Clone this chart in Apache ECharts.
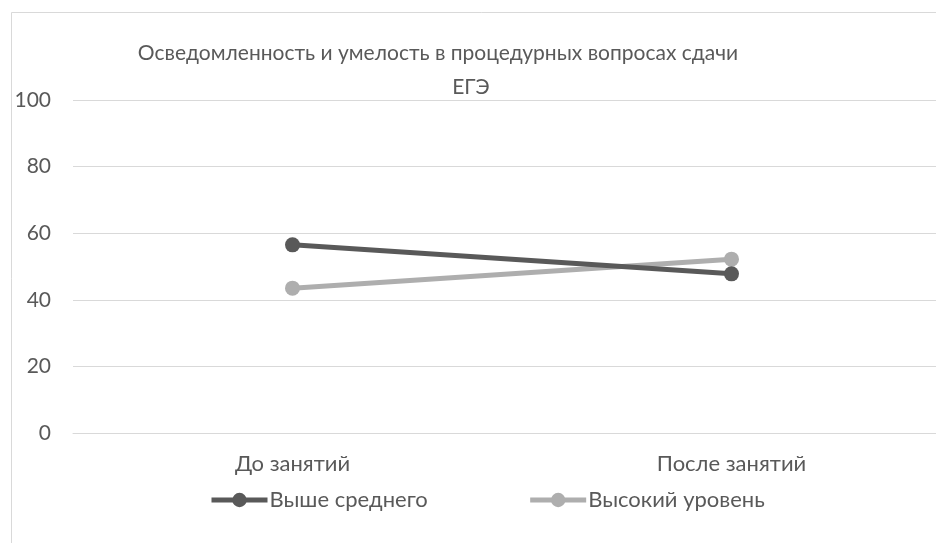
<!DOCTYPE html>
<html>
<head>
<meta charset="utf-8">
<script src="https://cdn.jsdelivr.net/npm/echarts@6/dist/echarts.min.js"></script>
<style>
  html, body { margin: 0; padding: 0; background: #fff; overflow: hidden; }
  /* the plot area continues a little past the right edge of the window */
  #chart { width: 951px; height: 543px; }
</style>
</head>
<body>
<div id="chart"></div>
<script>
// Категории и значения (в процентах)
const categories = ['До занятий', 'После занятий'];
const seriesNames = ['Выше среднего', 'Высокий уровень'];
const aboveAverage = [56.5, 47.8];
const highLevel = [43.5, 52.2];
const yTicks = { min: 0, max: 100, step: 20 };

const titleLine1 = 'Осведомленность и умелость в процедурных вопросах сдачи';
const titleLine2 = 'ЕГЭ';

const textColor = '#595959';
const gridColor = '#d9d9d9';
const darkGray = '#595959';
const lightGray = '#aeaeae';
const font = 'Lato, "Open Sans", sans-serif';

const chart = echarts.init(document.getElementById('chart'), null, { renderer: 'canvas' });

chart.setOption({
  backgroundColor: '#ffffff',
  animation: false,
  graphic: [{
    type: 'rect',
    shape: { x: 11.5, y: 12.5, width: 1000, height: 600 },
    style: { fill: 'none', stroke: gridColor, lineWidth: 1 },
    silent: true
  }],
  title: [
    {
      text: titleLine1,
      left: 433, top: 38, textAlign: 'center',
      textStyle: { fontFamily: font, fontSize: 21, fontWeight: 'normal', color: textColor }
    },
    {
      text: titleLine2,
      left: 466, top: 72, textAlign: 'center',
      textStyle: { fontFamily: font, fontSize: 21, fontWeight: 'normal', color: textColor }
    }
  ],
  legend: {
    data: seriesNames,
    left: 209, top: 489, padding: 0,
    itemWidth: 56, itemHeight: 18, itemGap: 100,
    lineStyle: { width: 5 },
    textStyle: { fontFamily: font, fontSize: 22, color: textColor, padding: [0, 0, 0, -3] }
  },
  grid: { left: 73, right: 0, top: 100, bottom: 110, containLabel: false },
  xAxis: {
    type: 'category',
    data: categories,
    boundaryGap: true,
    axisLine: { show: true, lineStyle: { color: gridColor, width: 1 } },
    axisTick: { show: false },
    axisLabel: { fontFamily: font, fontSize: 22, color: textColor, margin: 20 },
    splitLine: { show: false }
  },
  yAxis: {
    type: 'value',
    min: yTicks.min, max: yTicks.max, interval: yTicks.step,
    axisLine: { show: false },
    axisTick: { show: false },
    axisLabel: { fontFamily: font, fontSize: 21, color: textColor, margin: 22 },
    splitLine: { lineStyle: { color: gridColor, width: 1 } }
  },
  series: [
    {
      name: seriesNames[0],
      type: 'line',
      data: aboveAverage,
      symbol: 'circle', symbolSize: 15,
      lineStyle: { color: darkGray, width: 5 },
      itemStyle: { color: darkGray },
      z: 3
    },
    {
      name: seriesNames[1],
      type: 'line',
      data: highLevel,
      symbol: 'circle', symbolSize: 15,
      lineStyle: { color: lightGray, width: 5 },
      itemStyle: { color: lightGray },
      z: 2
    }
  ]
});
</script>
</body>
</html>
